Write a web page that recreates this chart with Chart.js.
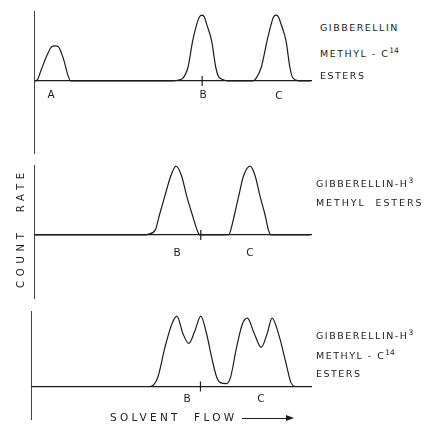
<!DOCTYPE html>
<html lang="en">
<head>
    <meta charset="UTF-8">
    <title>Gibberellin methyl esters - count rate</title>
    <script src="https://cdn.jsdelivr.net/npm/chart.js"></script>
    <style>
        body {
            margin: 0;
            width: 431px;
            height: 429px;
            position: relative;
            overflow: hidden;
            background: #fff;
            color: #1c1c1c;
            font-family: "DejaVu Sans", sans-serif;
        }
        canvas { position: absolute; }
        #p1 { left: 28px; top: 5px; }
        #p2 { left: 28px; top: 159px; }
        #p3 { left: 25px; top: 305px; }
        .lbl {
            position: absolute;
            font-size: 10.5px;
            transform: translate(-50%, -50%);
        }
        .side {
            position: absolute;
            font-size: 9.5px;
            letter-spacing: 1.5px;
            white-space: pre;
            transform: translateY(-50%);
        }
        .side sup {
            font-size: 7.5px;
            letter-spacing: 0;
            vertical-align: 4px;
        }
        .ytitle {
            position: absolute;
            left: 20px;
            top: 228px;
            font-size: 10px;
            letter-spacing: 4.8px;
            white-space: pre;
            transform: translate(-50%, -50%) rotate(-90deg);
        }
        .flow {
            position: absolute;
            left: 110px;
            top: 417px;
            font-size: 10.5px;
            letter-spacing: 3.3px;
            white-space: pre;
            transform: translateY(-50%);
        }
        .arrow {
            display: inline-block;
            position: relative;
            width: 50px;
            height: 1px;
            background: #1c1c1c;
            vertical-align: middle;
            margin-left: 5px;
        }
        .arrow:after {
            content: "";
            position: absolute;
            right: -2px;
            top: -3px;
            border-left: 8px solid #1c1c1c;
            border-top: 3.5px solid transparent;
            border-bottom: 3.5px solid transparent;
        }
    </style>
</head>
<body>
    <canvas id="p1" width="290" height="155"></canvas>
    <canvas id="p2" width="290" height="146"></canvas>
    <canvas id="p3" width="293" height="121"></canvas>

    <div class="lbl" style="left:51px; top:94px;">A</div>
    <div class="lbl" style="left:203px; top:94px;">B</div>
    <div class="lbl" style="left:279px; top:95px;">C</div>
    <div class="side" style="left:320px; top:27px;">GIBBERELLIN</div>
    <div class="side" style="left:320px; top:52px;">METHYL - C<sup>14</sup></div>
    <div class="side" style="left:320px; top:75px;">ESTERS</div>

    <div class="lbl" style="left:177px; top:252px;">B</div>
    <div class="lbl" style="left:250px; top:252px;">C</div>
    <div class="side" style="left:316px; top:182px;">GIBBERELLIN-H<sup>3</sup></div>
    <div class="side" style="left:316px; top:202px; letter-spacing:1.9px;">METHYL  ESTERS</div>

    <div class="lbl" style="left:187px; top:398px;">B</div>
    <div class="lbl" style="left:261px; top:398px;">C</div>
    <div class="side" style="left:316px; top:334px;">GIBBERELLIN-H<sup>3</sup></div>
    <div class="side" style="left:316px; top:354px;">METHYL - C<sup>14</sup></div>
    <div class="side" style="left:316px; top:373px;">ESTERS</div>

    <div class="ytitle">COUNT  RATE</div>
    <div class="flow">SOLVENT  FLOW<span class="arrow"></span></div>

    <script>
        // solvent flow position (arbitrary units) and count rate (arbitrary units)
        const c14Flow = [0, 1.1, 2.5, 4.9, 6.4, 7.5, 8.6, 10.7, 12.1, 13.2,
            50.0, 51.8, 53.6, 55.4, 57.1, 58.6, 59.5, 60.4, 61.3, 62.1, 63.9, 65.4, 66.8, 71.1,
            78.6, 80.0, 81.8, 83.9, 85.4, 86.2, 87.1, 88.0, 88.9, 90.7, 92.1, 93.2, 96.4, 99.6];
        const c14Rate = [0, 1.4, 16, 40, 50, 51, 50, 30, 9, 0,
            0, 1.4, 4.3, 20, 58.6, 82.9, 92.9, 95.7, 92.9, 82.9, 58.6, 20, 4.3, 0,
            0, 4.3, 20, 58.6, 82.9, 92.9, 95.7, 92.9, 82.9, 58.6, 20, 4.3, 0, 0];

        const h3Flow = [0, 40.0, 40.6, 43.6, 45.1, 47.1, 49.2, 51.1, 53.1, 54.9, 57.0, 58.7, 59.6,
            70.1, 70.8, 72.1, 73.7, 75.4, 77.8, 79.6, 81.3, 83.2, 84.4, 85.3, 99.3];
        const h3Rate = [0, 0, 0.5, 7, 28.6, 57.1, 85.7, 100, 85.7, 57.1, 28.6, 7, 0,
            0.5, 7, 28.6, 57.1, 85.7, 100, 85.7, 57.1, 28.6, 7, 0, 0];

        const mixFlow = [-1.1, 41.8, 43.2, 44.6, 47.1, 49.6, 51.4, 53.6, 55.7, 57.9, 60.0, 62.1,
            63.9, 65.7, 67.1, 69.3, 70.7, 72.9, 75.0, 76.8, 79.3, 81.8, 83.9, 85.7, 88.2, 90.7,
            92.5, 94.3, 98.2];
        const mixRate = [0, 0, 3, 14.3, 57.1, 91.4, 102.9, 77.1, 62.9, 81.4, 102.9, 77.1,
            42.9, 14.3, 5.7, 4.3, 12.9, 57.1, 91.4, 100, 77.1, 57.1, 77.1, 100, 74.3, 34.3,
            5.7, 0, 0];

        // position of the marker tick on the base line
        const markFlow = [60.5, 60.0, 59.9];

        function pairs(xs, ys) {
            return xs.map((x, i) => ({ x: x, y: ys[i] }));
        }

        function drawPanel(id, xs, ys, mark, xMin, xMax, yMin, yMax) {
            const ctx = document.getElementById(id).getContext('2d');
            return new Chart(ctx, {
                type: 'line',
                data: {
                    datasets: [{
                        data: pairs(xs, ys),
                        borderColor: '#1c1c1c',
                        borderWidth: 1.2,
                        pointRadius: 0,
                        cubicInterpolationMode: 'monotone',
                        fill: false
                    }, {
                        data: [{ x: mark, y: 0 }],
                        showLine: false,
                        pointStyle: 'line',
                        rotation: 90,
                        pointRadius: 5,
                        borderColor: '#1c1c1c',
                        borderWidth: 1.2
                    }]
                },
                options: {
                    responsive: false,
                    animation: false,
                    layout: { padding: 5 },
                    plugins: {
                        legend: { display: false },
                        tooltip: { enabled: false }
                    },
                    scales: {
                        x: {
                            type: 'linear',
                            min: xMin,
                            max: xMax,
                            position: { y: 0 },
                            grid: { display: false, drawTicks: false },
                            ticks: { display: false },
                            border: { display: true, color: '#1c1c1c', width: 1.2 }
                        },
                        y: {
                            min: yMin,
                            max: yMax,
                            grid: { display: false, drawTicks: false },
                            ticks: { display: false },
                            border: { display: true, color: '#444', width: 1 }
                        }
                    }
                }
            });
        }

        drawPanel('p1', c14Flow, c14Rate, markFlow[0], 0, 100, -105.7, 101.4);
        drawPanel('p2', h3Flow, h3Rate, markFlow[1], 0, 100, -92.9, 101.4);
        drawPanel('p3', mixFlow, mixRate, markFlow[2], -1.07, 100, -48.6, 110);
    </script>
</body>
</html>
